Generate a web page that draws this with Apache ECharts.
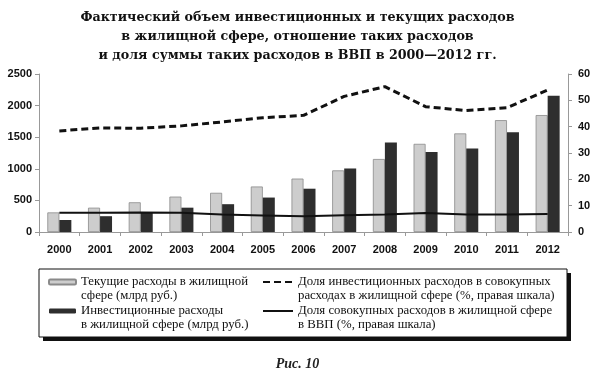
<!DOCTYPE html>
<html><head><meta charset="utf-8">
<script src="https://cdn.jsdelivr.net/npm/echarts@6/dist/echarts.min.js"></script>
<style>html,body{margin:0;padding:0;background:#fff}#c{width:595px;height:373px}</style>
</head><body><div id="c"></div>
<script>
const years = ['2000','2001','2002','2003','2004','2005','2006','2007','2008','2009','2010','2011','2012'];
const currentExp = [310, 385, 470, 560, 620, 720, 845, 975, 1155, 1395, 1560, 1770, 1850];
const investExp = [190, 250, 305, 385, 440, 545, 685, 1005, 1415, 1265, 1320, 1580, 2155];
const investShare = [38.4, 39.5, 39.4, 40.3, 41.8, 43.4, 44.3, 51.5, 55.2, 47.6, 46.1, 47.2, 53.9];
const gdpShare = [7.3, 7.3, 7.4, 7.3, 6.6, 6.3, 6.0, 6.4, 6.6, 7.2, 6.6, 6.6, 6.8];
const leftTicks = {min: 0, max: 2500, interval: 500};
const rightTicks = {min: 0, max: 60, interval: 10};
const names = [
  'Текущие расходы в жилищной\nсфере (млрд руб.)',
  'Инвестиционные расходы\nв жилищной сфере (млрд руб.)',
  'Доля инвестиционных расходов в совокупных\nрасходах в жилищной сфере (%, правая шкала)',
  'Доля совокупных расходов в жилищной сфере\nв ВВП (%, правая шкала)'
];
const titleText = 'Фактический объем инвестиционных и текущих расходов\nв жилищной сфере, отношение таких расходов\nи доля суммы таких расходов в ВВП в 2000—2012 гг.';
const captionText = 'Рис. 10';

const axisLabel = {color: '#111', fontFamily: 'Liberation Sans', fontWeight: 'bold', fontSize: 11};
const legendText = {color: '#111', fontFamily: 'Liberation Serif', fontSize: 12.8, lineHeight: 14};
// a leading blank line keeps the icon level with the first text line
const legendFmt = function (n) { return '\n' + n; };

const chart = echarts.init(document.getElementById('c'), null, {renderer: 'canvas'});
chart.setOption({
  animation: false,
  backgroundColor: '#fff',
  title: [{
    text: titleText, left: 'center', top: 3,
    textStyle: {fontFamily: 'DejaVu Serif', fontWeight: 'bold', fontSize: 12.7, lineHeight: 19, color: '#111'}
  }, {
    text: captionText, left: 'center', top: 352,
    textStyle: {fontFamily: 'Liberation Serif', fontStyle: 'italic', fontWeight: 'bold', fontSize: 14, color: '#222'}
  }],
  graphic: [{
    type: 'rect', z: 0, silent: true,
    shape: {x: 43, y: 273, width: 528, height: 68},
    style: {fill: '#111'}
  }, {
    type: 'rect', z: 1, silent: true,
    shape: {x: 39, y: 269, width: 528, height: 68},
    style: {fill: '#fff', stroke: '#111', lineWidth: 1}
  }],
  legend: [{
    left: 48, top: 261, padding: 0, orient: 'vertical', itemGap: -13, itemWidth: 27, itemHeight: 5,
    data: [names[0], names[1]], formatter: legendFmt, textStyle: legendText, selectedMode: false
  }, {
    left: 262, top: 261, padding: 0, orient: 'vertical', itemGap: -13, itemWidth: 30, itemHeight: 5,
    data: [names[2], names[3]], formatter: legendFmt, textStyle: legendText, selectedMode: false,
    itemStyle: {color: 'rgba(0,0,0,0)', borderWidth: 0}
  }],
  grid: {left: 39, right: 27, top: 74, bottom: 141},
  xAxis: {
    type: 'category', data: years,
    axisLine: {lineStyle: {color: '#999', width: 1}},
    axisTick: {show: true, length: 4, lineStyle: {color: '#999'}},
    axisLabel: Object.assign({margin: 12}, axisLabel)
  },
  yAxis: [{
    type: 'value', min: leftTicks.min, max: leftTicks.max, interval: leftTicks.interval,
    axisLine: {show: true, lineStyle: {color: '#999'}},
    axisTick: {show: true, length: 4, lineStyle: {color: '#999'}},
    splitLine: {show: false},
    axisLabel: Object.assign({margin: 7, formatter: function (v) { return String(v); }}, axisLabel)
  }, {
    type: 'value', position: 'right', min: rightTicks.min, max: rightTicks.max, interval: rightTicks.interval,
    axisLine: {show: true, lineStyle: {color: '#999'}},
    axisTick: {show: true, length: 4, lineStyle: {color: '#999'}},
    splitLine: {show: false},
    axisLabel: Object.assign({margin: 10}, axisLabel)
  }],
  series: [{
    name: names[0], type: 'bar', data: currentExp, barWidth: 12, barGap: '0%',
    itemStyle: {color: '#cdcdcd', borderColor: '#8a8a8a', borderWidth: 0.8}
  }, {
    name: names[1], type: 'bar', data: investExp, barWidth: 12,
    itemStyle: {color: '#2e2e2e'}
  }, {
    name: names[2], type: 'line', yAxisIndex: 1, data: investShare, symbol: 'none',
    lineStyle: {color: '#111', width: 3, type: [7, 4]}, itemStyle: {color: '#111'}, z: 5
  }, {
    name: names[3], type: 'line', yAxisIndex: 1, data: gdpShare, symbol: 'none',
    lineStyle: {color: '#111', width: 2}, itemStyle: {color: '#111'}, z: 5
  }]
});
</script></body></html>
